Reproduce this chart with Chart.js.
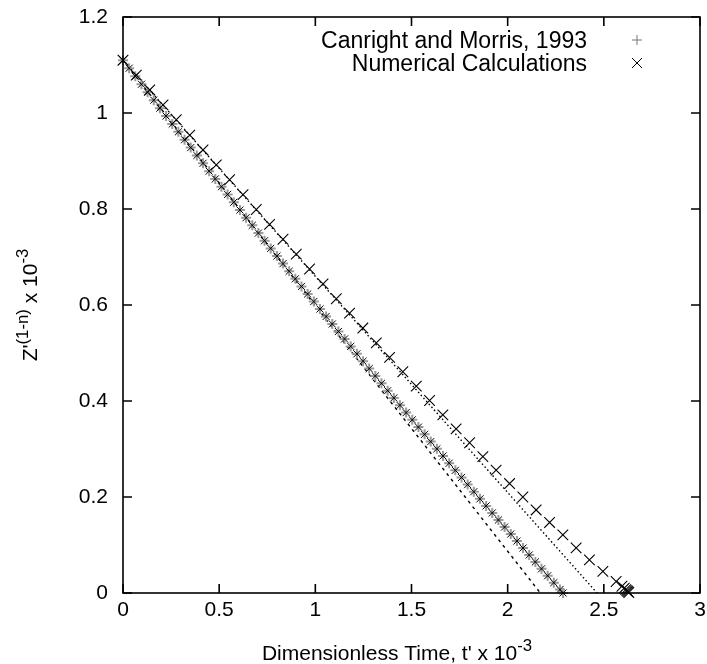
<!DOCTYPE html>
<html>
<head>
<meta charset="utf-8">
<script src="https://cdn.jsdelivr.net/npm/chart.js@4/dist/chart.umd.min.js"></script>
<style>
  html, body { margin: 0; padding: 0; background: #fff; }
  canvas { display: block; }
</style>
</head>
<body>
<canvas id="chart" width="707" height="664"></canvas>
<script>
// lower curve: Canright & Morris (+) and the numerical run (x) lie on top of each other
const lowerTime = [0, 0.032, 0.064, 0.096, 0.128, 0.16, 0.192, 0.224, 0.256, 0.288,
  0.32, 0.352, 0.384, 0.416, 0.448, 0.48, 0.512, 0.544, 0.576, 0.608,
  0.64, 0.672, 0.704, 0.736, 0.768, 0.8, 0.832, 0.864, 0.896, 0.928,
  0.96, 0.992, 1.024, 1.056, 1.088, 1.12, 1.152, 1.184, 1.216, 1.248,
  1.28, 1.312, 1.344, 1.376, 1.408, 1.44, 1.472, 1.504, 1.536, 1.568,
  1.6, 1.632, 1.664, 1.696, 1.728, 1.76, 1.792, 1.824, 1.856, 1.888,
  1.92, 1.952, 1.984, 2.016, 2.048, 2.08, 2.112, 2.144, 2.176, 2.208,
  2.24, 2.272, 2.288];
const lowerZ = [1.11, 1.0933, 1.0766, 1.0599, 1.0433, 1.0267, 1.0101, 0.9936, 0.9771, 0.9607,
  0.9443, 0.9279, 0.9115, 0.8952, 0.8789, 0.8627, 0.8464, 0.8303, 0.8141, 0.798,
  0.7819, 0.7659, 0.7499, 0.7339, 0.7179, 0.702, 0.6862, 0.6703, 0.6545, 0.6387,
  0.623, 0.6073, 0.5916, 0.576, 0.5604, 0.5448, 0.5293, 0.5138, 0.4983, 0.4829,
  0.4675, 0.4521, 0.4368, 0.4215, 0.4063, 0.391, 0.3758, 0.3607, 0.3456, 0.3305,
  0.3154, 0.3004, 0.2854, 0.2705, 0.2555, 0.2407, 0.2258, 0.211, 0.1962, 0.1815,
  0.1668, 0.1521, 0.1374, 0.1228, 0.1082, 0.0937, 0.0792, 0.0647, 0.0503, 0.0359,
  0.0215, 0.0072, 0.0];

// upper numerical run
const upperTime = [0, 0.069, 0.139, 0.208, 0.277, 0.347, 0.416, 0.485, 0.554, 0.624,
  0.693, 0.762, 0.832, 0.901, 0.97, 1.04, 1.109, 1.178, 1.247, 1.317,
  1.386, 1.455, 1.525, 1.594, 1.663, 1.732, 1.802, 1.871, 1.94, 2.01,
  2.079, 2.148, 2.218, 2.287, 2.356, 2.425, 2.495, 2.564,
  2.594, 2.606, 2.614, 2.62, 2.625, 2.63];
const upperZ = [1.11, 1.079, 1.048, 1.017, 0.986, 0.954, 0.923, 0.892, 0.861, 0.83,
  0.799, 0.768, 0.737, 0.706, 0.675, 0.644, 0.613, 0.583, 0.552, 0.521,
  0.491, 0.461, 0.431, 0.401, 0.371, 0.342, 0.313, 0.284, 0.256, 0.228,
  0.2, 0.173, 0.147, 0.121, 0.094, 0.069, 0.045, 0.024,
  0.014, 0.01, 0.007, 0.005, 0.003, 0.001];

// straight reference lines
const dashedTime = [0, 2.17];
const dashedZ = [1.11, 0];
const dottedTime = [0, 2.465];
const dottedZ = [1.11, 0];

const xTicks = [0, 0.5, 1, 1.5, 2, 2.5, 3];
const xTickLabels = ['0', '0.5', '1', '1.5', '2', '2.5', '3'];
const yTicks = [0, 0.2, 0.4, 0.6, 0.8, 1, 1.2];
const yTickLabels = ['0', '0.2', '0.4', '0.6', '0.8', '1', '1.2'];

const legendLabels = ['Canright and Morris, 1993', 'Numerical Calculations'];

const FONT = "'Liberation Sans', Arial, sans-serif";
const FSIZE = 21;
const KEY_FSIZE = 23;

const pts = (xs, ys) => xs.map((x, i) => ({ x: x, y: ys[i] }));

// text with superscript pieces, e.g. 10^-3
function richText(ctx, parts, x, y, align) {
  const widths = parts.map(p => {
    ctx.font = (p.sup ? FSIZE * 0.8 : FSIZE) + 'px ' + FONT;
    return ctx.measureText(p.t).width;
  });
  const total = widths.reduce((a, b) => a + b, 0);
  let cx = align === 'center' ? x - total / 2 : x;
  parts.forEach((p, i) => {
    ctx.font = (p.sup ? FSIZE * 0.8 : FSIZE) + 'px ' + FONT;
    ctx.fillText(p.t, cx, p.sup ? y - 9 : y);
    cx += widths[i];
  });
}

const framePlugin = {
  id: 'frame',
  afterDraw(chart) {
    const ctx = chart.ctx;
    const a = chart.chartArea;
    const xs = chart.scales.x, ys = chart.scales.y;
    ctx.save();
    ctx.strokeStyle = '#000';
    ctx.lineWidth = 1.6;
    ctx.strokeRect(a.left, a.top, a.right - a.left, a.bottom - a.top);

    // inward ticks on all four sides
    const tl = 9;
    ctx.beginPath();
    xTicks.forEach(v => {
      const px = xs.getPixelForValue(v);
      ctx.moveTo(px, a.bottom); ctx.lineTo(px, a.bottom - tl);
      ctx.moveTo(px, a.top); ctx.lineTo(px, a.top + tl);
    });
    yTicks.forEach(v => {
      const py = ys.getPixelForValue(v);
      ctx.moveTo(a.left, py); ctx.lineTo(a.left + tl, py);
      ctx.moveTo(a.right, py); ctx.lineTo(a.right - tl, py);
    });
    ctx.stroke();

    // axis titles
    ctx.fillStyle = '#000';
    ctx.textBaseline = 'alphabetic';
    ctx.textAlign = 'left';
    richText(ctx, [{ t: "Dimensionless Time, t' x 10" }, { t: '-3', sup: true }], 397, 660, 'center');

    ctx.save();
    ctx.translate(37, 305);
    ctx.rotate(-Math.PI / 2);
    richText(ctx, [{ t: "Z'" }, { t: '(1-n)', sup: true }, { t: ' x 10' }, { t: '-3', sup: true }], 0, 0, 'center');
    ctx.restore();

    // key in the top right corner
    ctx.font = KEY_FSIZE + 'px ' + FONT;
    ctx.textAlign = 'right';
    const rows = [40, 63];
    legendLabels.forEach((s, i) => ctx.fillText(s, 587, rows[i] + 8));
    const mx = 637, r = 5;
    ctx.lineWidth = 1;
    ctx.strokeStyle = '#777';
    ctx.beginPath();
    ctx.moveTo(mx - r, rows[0]); ctx.lineTo(mx + r, rows[0]);
    ctx.moveTo(mx, rows[0] - r); ctx.lineTo(mx, rows[0] + r);
    ctx.stroke();
    ctx.strokeStyle = '#000';
    ctx.beginPath();
    ctx.moveTo(mx - r, rows[1] - r); ctx.lineTo(mx + r, rows[1] + r);
    ctx.moveTo(mx - r, rows[1] + r); ctx.lineTo(mx + r, rows[1] - r);
    ctx.stroke();
    ctx.restore();
  }
};

new Chart(document.getElementById('chart'), {
  type: 'scatter',
  data: {
    datasets: [
      {
        data: pts(upperTime, upperZ),
        pointStyle: 'crossRot', pointRadius: 7.5, borderColor: '#000', borderWidth: 1.1,
        clip: false, order: 1
      },
      {
        data: pts(lowerTime, lowerZ),
        pointStyle: 'crossRot', pointRadius: 5, borderColor: '#000', borderWidth: 1,
        clip: false, order: 2
      },
      {
        data: pts(lowerTime, lowerZ),
        pointStyle: 'cross', pointRadius: 5, borderColor: '#9a9a9a', borderWidth: 2,
        clip: false, order: 3
      },
      {
        data: pts(dottedTime, dottedZ), showLine: true, pointRadius: 0,
        borderColor: '#000', borderWidth: 1.4, borderDash: [1.5, 2.5], order: 4
      },
      {
        data: pts(dashedTime, dashedZ), showLine: true, pointRadius: 0,
        borderColor: '#000', borderWidth: 1.4, borderDash: [3, 4], order: 5
      }
    ]
  },
  options: {
    responsive: false,
    animation: false,
    layout: { autoPadding: false, padding: { top: 17, right: 7, left: 0, bottom: 0 } },
    plugins: { legend: { display: false }, tooltip: { enabled: false } },
    scales: {
      x: {
        type: 'linear', min: 0, max: 3,
        grid: { display: false, drawTicks: false },
        border: { display: false },
        afterBuildTicks: s => { s.ticks = xTicks.map(v => ({ value: v })); },
        afterFit: s => { s.height = 71; s.paddingLeft = 0; s.paddingRight = 0; },
        ticks: {
          padding: 5, color: '#000', maxRotation: 0,
          font: { family: FONT, size: FSIZE },
          callback: (v, i) => xTickLabels[i]
        }
      },
      y: {
        type: 'linear', min: 0, max: 1.2,
        grid: { display: false, drawTicks: false },
        border: { display: false },
        afterBuildTicks: s => { s.ticks = yTicks.map(v => ({ value: v })); },
        afterFit: s => { s.width = 123; s.paddingTop = 0; s.paddingBottom = 0; },
        ticks: {
          padding: 15, color: '#000',
          font: { family: FONT, size: FSIZE },
          callback: (v, i) => yTickLabels[i]
        }
      }
    }
  },
  plugins: [framePlugin]
});
</script>
</body>
</html>
